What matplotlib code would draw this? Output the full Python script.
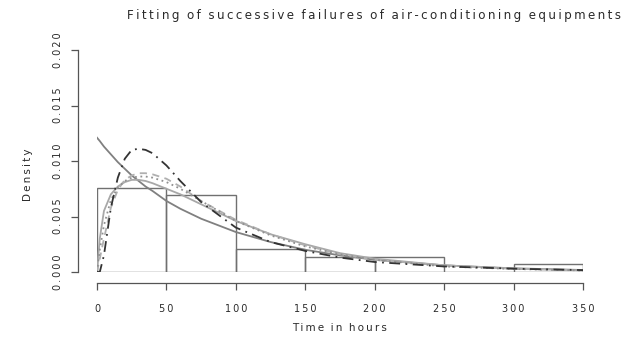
import numpy as np
import matplotlib
matplotlib.use("Agg")
import matplotlib.pyplot as plt

# histogram (density, bin width 50)
bin_edges = [0, 50, 100, 150, 200, 250, 300, 350]
bar_density = [0.00759, 0.00690, 0.00207, 0.00138, 0.00138, 0.0, 0.00069]

# fitted curves
x_fit = [0, 2, 5, 10, 15, 20, 25, 30, 35, 40, 50, 60, 75, 100, 125, 150, 175, 200, 250, 300, 350]
fit_solid_dark = [0.0121, 0.0118, 0.0113, 0.0106, 0.0099, 0.0093, 0.0087, 0.0082, 0.0077, 0.0073, 0.0064,
                  0.0057, 0.0048, 0.0036, 0.0027, 0.0020, 0.0015, 0.0011, 0.0006, 0.00033, 0.00018]
fit_dashdot = [0.0, 0.0, 0.0015, 0.0058, 0.0085, 0.0102, 0.0110, 0.0111, 0.0110, 0.0107, 0.0096,
               0.0082, 0.0063, 0.0040, 0.0027, 0.0019, 0.0013, 0.0009, 0.0005, 0.0003, 0.00017]
fit_solid_light = [0.0, 0.0030, 0.0055, 0.0070, 0.0077, 0.0081, 0.0083, 0.0083, 0.0082, 0.0080, 0.0075,
                   0.0070, 0.0061, 0.0046, 0.0034, 0.0025, 0.0017, 0.0012, 0.0006, 0.0003, 0.00015]
fit_dashed = [0.0, 0.0012, 0.0030, 0.0058, 0.0074, 0.0083, 0.0087, 0.0089, 0.0089, 0.0088, 0.0084,
              0.0077, 0.0064, 0.0047, 0.0034, 0.0024, 0.0016, 0.0011, 0.0006, 0.0003, 0.00015]
fit_dotted = [0.0, 0.0020, 0.0042, 0.0065, 0.0076, 0.0082, 0.0085, 0.0086, 0.0086, 0.0085, 0.0081,
              0.0075, 0.0064, 0.0046, 0.0033, 0.0023, 0.0016, 0.0011, 0.0005, 0.00027, 0.00014]

x_ticks = [0, 50, 100, 150, 200, 250, 300, 350]
y_ticks = [0.000, 0.005, 0.010, 0.015, 0.020]

title = 'Fitting of successive failures of air-conditioning equipments'
xlabel = 'Time in hours'
ylabel = 'Density'


def spaced(s):
    # wide letter spacing like the original device font
    return '\u2009'.join(s)


plt.rcParams['font.family'] = ['DejaVu Sans']
txt = '#2a2a2a'

W, H = 633, 340
fig = plt.figure(figsize=(W / 100, H / 100), dpi=100)
ax = fig.add_axes([97 / W, (H - 272) / H, (583 - 97) / W, (272 - 50) / H])
ax.set_xlim(0, 350)
ax.set_ylim(0, 0.020)

# histogram
ax.bar(bin_edges[:-1], bar_density, width=np.diff(bin_edges), align='edge',
       fill=False, edgecolor='#707070', linewidth=1.0, zorder=2)

# curves
lw = 1.3
ax.plot(x_fit, fit_solid_dark, color='#808080', lw=lw, zorder=3)
ax.plot(x_fit, fit_solid_light, color='#a8a8a8', lw=lw, zorder=3)
ax.plot(x_fit, fit_dashed, color='#b0b0b0', lw=lw, ls=(0, (4, 3)), zorder=3)
ax.plot(x_fit, fit_dotted, color='#909090', lw=lw, ls=(0, (1, 2)), zorder=3)
ax.plot(x_fit, fit_dashdot, color='#333333', lw=lw, ls=(0, (6, 3, 1, 3)), zorder=4)

# R style detached axes
for s in ['top', 'right']:
    ax.spines[s].set_visible(False)
ax.spines['bottom'].set_position(('outward', 8))
ax.spines['left'].set_position(('outward', 13.5))
ax.spines['bottom'].set_bounds(0, 350)
ax.spines['left'].set_bounds(0, 0.020)
for s in ['bottom', 'left']:
    ax.spines[s].set_color('#555555')
    ax.spines[s].set_linewidth(0.9)

ax.set_xticks(x_ticks)
ax.set_xticklabels([spaced(str(v)) for v in x_ticks])
ax.set_yticks(y_ticks)
ax.set_yticklabels([spaced(f'{v:.3f}') for v in y_ticks], rotation=90, va='center')
ax.tick_params(colors='#555555', labelcolor=txt, labelsize=7, length=5, width=0.9)
ax.tick_params(axis='x', pad=10)
ax.tick_params(axis='y', pad=6)

fig.text(374 / W, 1 - 15 / H, spaced(title).replace('\u2009 \u2009', '  '),
         ha='center', va='center', fontsize=8.6, color=txt)
fig.text(340 / W, 1 - 328 / H, spaced(xlabel).replace('\u2009 \u2009', '  '),
         ha='center', va='center', fontsize=7.5, color=txt)
fig.text(28 / W, 1 - 175 / H, spaced(ylabel), ha='center', va='center',
         rotation=90, fontsize=7.5, color=txt)

fig.savefig('out.png', dpi=100)
